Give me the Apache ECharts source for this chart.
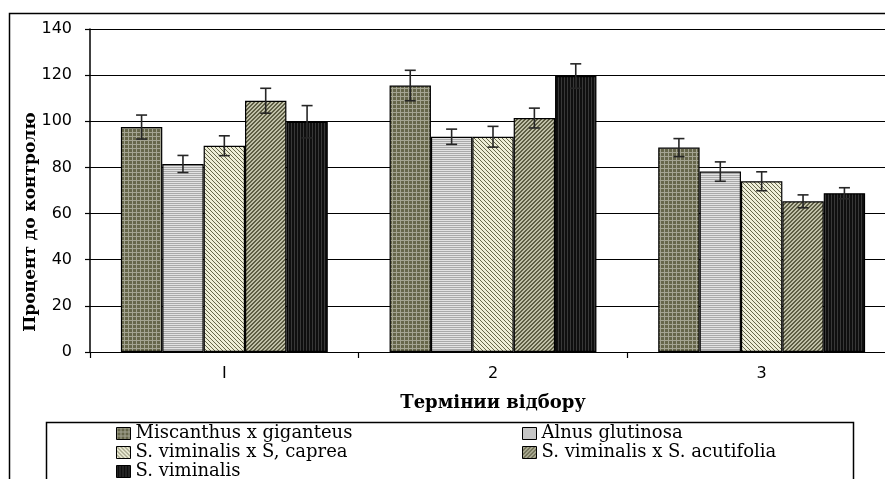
<!DOCTYPE html>
<html>
<head>
<meta charset="utf-8">
<script src="https://cdn.jsdelivr.net/npm/echarts@6/dist/echarts.min.js"></script>
<style>
html,body{margin:0;padding:0;background:#fff;}
#chart{width:885px;height:479px;}
</style>
</head>
<body>
<div id="chart"></div>
<script>
// ---- data ----
const categories = ['I', '2', '3'];
const seriesNames = ['Miscanthus x giganteus', 'Alnus glutinosa', 'S. viminalis x S, caprea', 'S. viminalis x S. acutifolia', 'S. viminalis'];
const miscanthus = [97.5, 115.5, 88.6];
const alnus = [81.5, 93.3, 78.2];
const caprea = [89.4, 93.3, 74.0];
const acutifolia = [108.9, 101.4, 65.3];
const viminalis = [99.8, 119.6, 68.8];
const miscanthusErr = [5.2, 6.6, 3.9];
const alnusErr = [3.7, 3.3, 4.2];
const capreaErr = [4.3, 4.5, 4.1];
const acutifoliaErr = [5.4, 4.3, 2.8];
const viminalisErr = [7.0, 5.3, 2.4];
const yTicks = [0, 20, 40, 60, 80, 100, 120, 140];
const xAxisTitle = 'Термінии відбору';
const yAxisTitle = 'Процент до контролю';

const values = [miscanthus, alnus, caprea, acutifolia, viminalis];
const errors = [miscanthusErr, alnusErr, capreaErr, acutifoliaErr, viminalisErr];

// ---- fill patterns ----
function tile(w, h, bg, fg, pix) {
  const c = document.createElement('canvas');
  c.width = w; c.height = h;
  const ctx = c.getContext('2d');
  ctx.fillStyle = bg; ctx.fillRect(0, 0, w, h);
  ctx.fillStyle = fg;
  pix.forEach(p => ctx.fillRect(p[0], p[1], 1, 1));
  return { image: c, repeat: 'repeat' };
}
function gridPix() { const p = []; for (let i = 0; i < 4; i++) { p.push([i, 0]); p.push([0, i]); } return p; }
const patterns = [
  tile(4, 4, '#66664a', '#a4a492', gridPix()),
  tile(1, 2, '#e2e2e2', '#a9a9a9', [[0, 1]]),
  tile(4, 4, '#eeeed8', '#66664a', [[0, 0], [1, 1], [2, 2], [3, 3]]),
  tile(4, 4, '#c0c0a8', '#5e5e44', [[3, 0], [2, 1], [1, 2], [0, 3], [0, 0], [3, 1], [2, 2], [1, 3]]),
  tile(3, 1, '#0f0f0f', '#383838', [[0, 0]])
];

const barSeries = seriesNames.map((name, i) => ({
  name: name,
  type: 'bar',
  barGap: '0%',
  barCategoryGap: '23%',
  data: values[i],
  itemStyle: { color: patterns[i], borderColor: '#000', borderWidth: 1.2 },
  emphasis: { disabled: true },
  z: 2
}));

const errData = [];
values.forEach((arr, si) => arr.forEach((v, ci) => errData.push([ci, si, v, errors[si][ci]])));

const errSeries = {
  name: 'err',
  type: 'custom',
  z: 5,
  silent: true,
  encode: { x: 0, y: 2 },
  data: errData,
  renderItem: function (params, api) {
    const ci = api.value(0), si = api.value(1), v = api.value(2), e = api.value(3);
    const catW = api.size([1, 0])[0];
    const bw = catW * 0.77 / 5;
    const cx = api.coord([ci, 0])[0] + (si - 2) * bw;
    const yt = api.coord([ci, v + e])[1];
    const yb = api.coord([ci, v - e])[1];
    const hw = 5.5;
    const st = { stroke: '#262626', lineWidth: 1.6 };
    return {
      type: 'group',
      children: [
        { type: 'line', shape: { x1: cx, y1: yt, x2: cx, y2: yb }, style: st },
        { type: 'line', shape: { x1: cx - hw, y1: yt, x2: cx + hw, y2: yt }, style: st },
        { type: 'line', shape: { x1: cx - hw, y1: yb, x2: cx + hw, y2: yb }, style: st }
      ]
    };
  }
};

const legendText = { fontFamily: 'DejaVu Serif', fontSize: 18, color: '#000', lineHeight: 19 };

const option = {
  animation: false,
  backgroundColor: '#fff',
  grid: { left: 90, width: 806, top: 29, height: 323, outerBoundsMode: 'none', containLabel: false },
  xAxis: {
    type: 'category',
    data: categories,
    axisLine: { lineStyle: { color: '#000', width: 1.2 } },
    axisTick: { show: true, length: 6, lineStyle: { color: '#000', width: 1.2 } },
    axisLabel: { fontFamily: 'DejaVu Sans', fontSize: 16, color: '#000', margin: 14 },
    name: xAxisTitle,
    nameLocation: 'middle',
    nameGap: 42,
    nameTextStyle: { fontFamily: 'DejaVu Serif', fontWeight: 'bold', fontSize: 18, color: '#000' }
  },
  yAxis: {
    type: 'value',
    min: yTicks[0],
    max: yTicks[yTicks.length - 1],
    interval: 20,
    axisLine: { show: true, lineStyle: { color: '#000', width: 1.5 } },
    axisTick: { show: true, length: 5, lineStyle: { color: '#000', width: 1.2 } },
    axisLabel: { fontFamily: 'DejaVu Sans', fontSize: 16, color: '#000', margin: 18 },
    splitLine: { show: true, lineStyle: { color: '#000', width: 1.2 } }
  },
  legend: [
    {
      data: [seriesNames[0], seriesNames[2], seriesNames[4]],
      orient: 'vertical', left: 116, top: 424, height: 90, padding: 0, itemGap: 0,
      itemWidth: 14, itemHeight: 12,
      itemStyle: { borderColor: '#000', borderWidth: 1 },
      textStyle: legendText, selectedMode: false, icon: 'rect'
    },
    {
      data: [seriesNames[1], seriesNames[3]],
      orient: 'vertical', left: 522, top: 424, height: 90, padding: 0, itemGap: 0,
      itemWidth: 14, itemHeight: 12,
      itemStyle: { borderColor: '#000', borderWidth: 1 },
      textStyle: legendText, selectedMode: false, icon: 'rect'
    }
  ],
  graphic: [
    { type: 'rect', left: 7, top: 11, shape: { width: 900, height: 500 }, style: { fill: 'none', stroke: '#000', lineWidth: 1.5 }, z: 0, silent: true },
    { type: 'rect', left: 44, top: 420, shape: { width: 807, height: 80 }, style: { fill: 'none', stroke: '#000', lineWidth: 1.5 }, z: 0, silent: true },
    {
      type: 'text', x: 31, y: 222, rotation: Math.PI / 2, silent: true,
      style: { text: yAxisTitle, fontFamily: 'DejaVu Serif', fontWeight: 'bold', fontSize: 17, fill: '#000', align: 'center', verticalAlign: 'middle' }
    }
  ],
  series: barSeries.concat([errSeries])
};

const chart = echarts.init(document.getElementById('chart'), null, { renderer: 'canvas' });
chart.setOption(option);
</script>
</body>
</html>
